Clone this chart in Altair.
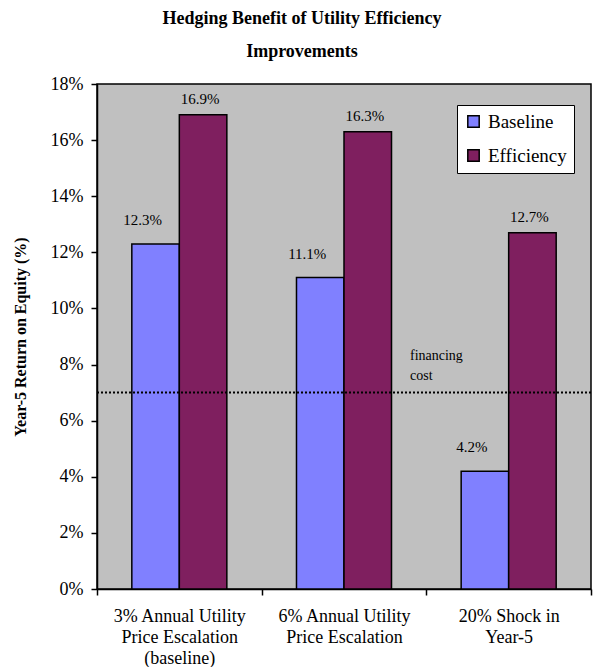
import altair as alt
import pandas as pd

# Scenario categories (line breaks mark the wrapped axis labels)
categories = [
    "3% Annual Utility\nPrice Escalation\n(baseline)",
    "6% Annual Utility\nPrice Escalation",
    "20% Shock in\nYear-5",
]
series = ["Baseline", "Efficiency"]
baseline_roe = [12.3, 11.1, 4.2]
efficiency_roe = [16.9, 16.3, 12.7]
financing_cost = 7.0
y_ticks = [0, 2, 4, 6, 8, 10, 12, 14, 16, 18]

colors = ["#8080FF", "#7F1F5F"]
FONT = "Liberation Serif"

rows = []
for cat, b, e in zip(categories, baseline_roe, efficiency_roe):
    rows.append({"scenario": cat, "series": "Baseline", "roe": b})
    rows.append({"scenario": cat, "series": "Efficiency", "roe": e})
df = pd.DataFrame(rows)

x_enc = alt.X(
    "scenario:N",
    sort=categories,
    scale=alt.Scale(paddingInner=0, paddingOuter=0),
    axis=alt.Axis(
        title=None,
        labelAngle=0,
        labelExpr="split(datum.label, '\\n')",
        labelFont=FONT,
        labelFontSize=18,
        labelLineHeight=21,
        labelColor="black",
        labelPadding=12,
        tickBand="extent",
        tickSize=6,
        tickColor="black",
        tickWidth=1.5,
        domainColor="black",
        domainWidth=1.5,
    ),
)
xoff_enc = alt.XOffset(
    "series:N", sort=series, scale=alt.Scale(paddingOuter=0.733, paddingInner=0)
)
y_enc = alt.Y(
    "roe:Q",
    scale=alt.Scale(domain=[0, 18], nice=False),
    axis=alt.Axis(
        title="Year-5 Return on Equity (%)",
        titleFont=FONT,
        titleFontSize=16,
        titleFontWeight="bold",
        titleColor="black",
        titlePadding=22,
        values=y_ticks,
        labelExpr="datum.value + '%'",
        labelFont=FONT,
        labelFontSize=18,
        labelColor="black",
        labelPadding=8,
        tickSize=6,
        tickColor="black",
        tickWidth=1.5,
        domainColor="black",
        domainWidth=1.5,
        grid=False,
    ),
)

bars = alt.Chart(df).mark_bar(stroke="black", strokeWidth=1.5).encode(
    x=x_enc,
    xOffset=xoff_enc,
    y=y_enc,
    color=alt.Color(
        "series:N",
        sort=series,
        scale=alt.Scale(domain=series, range=colors),
        legend=alt.Legend(
            title=None,
            orient="none",
            legendX=360,
            legendY=21,
            fillColor="white",
            strokeColor="black",
            padding=7,
            rowPadding=14,
            symbolType="square",
            symbolSize=130,
            symbolStrokeColor="black",
            symbolStrokeWidth=1.5,
            labelFont=FONT,
            labelFontSize=19,
            labelColor="black",
            labelOffset=5,
        ),
    ),
)

label_base = alt.Chart(df).transform_calculate(
    txt="format(datum.roe, '.1f') + '%'"
)

labels_baseline = label_base.transform_filter(
    "datum.series == 'Baseline'"
).mark_text(
    font=FONT, fontSize=15, baseline="bottom", dx=-13, dy=-16, color="black"
).encode(x=x_enc, xOffset=xoff_enc, y="roe:Q", text="txt:N")

labels_eff = label_base.transform_filter(
    "datum.series == 'Efficiency'"
).mark_text(
    font=FONT, fontSize=15, baseline="bottom", dx=-3, dy=-8, color="black"
).encode(x=x_enc, xOffset=xoff_enc, y="roe:Q", text="txt:N")

cost_df = pd.DataFrame({"cost": [financing_cost], "note": [["financing", "cost"]]})

cost_rule = alt.Chart(cost_df).mark_rule(
    color="black", strokeWidth=2, strokeDash=[2, 2]
).encode(y="cost:Q")

cost_text = alt.Chart(cost_df).mark_text(
    font=FONT, fontSize=14, align="left", baseline="top", lineHeight=20,
    dy=-44, color="black"
).encode(x=alt.value(313), y="cost:Q", text="note")

chart = (
    alt.layer(bars, labels_baseline, labels_eff, cost_rule, cost_text)
    .properties(
        width=494,
        height=505,
        title=alt.TitleParams(
            text=["Hedging Benefit of Utility Efficiency", "Improvements"],
            font=FONT,
            fontSize=18,
            fontWeight="bold",
            color="black",
            lineHeight=33,
            anchor="middle",
            baseline="bottom",
            dx=-42,
            dy=30,
            offset=26,
        ),
        autosize=alt.AutoSizeParams(type="none"),
        padding={"left": 97, "top": 84, "right": 3, "bottom": 78},
        background="white",
    )
    .configure_view(fill="#C0C0C0", stroke="black", strokeWidth=1.5)
)

chart.save("out.html", embed_options={"renderer": "svg", "actions": False})
